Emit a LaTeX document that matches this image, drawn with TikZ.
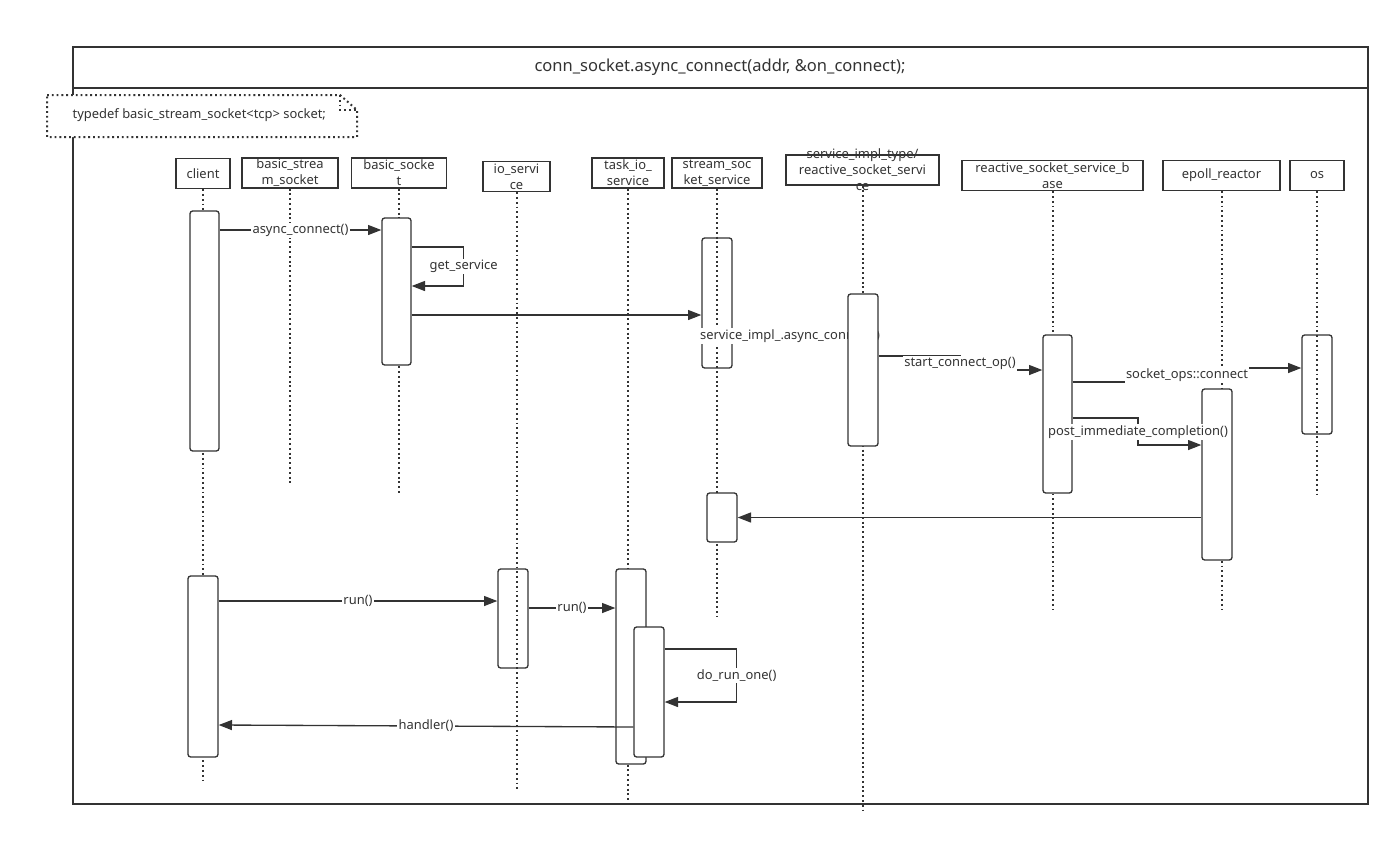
\documentclass[tikz,border=0pt]{standalone}
\usepackage{fontspec}
\setmainfont{Noto Sans}
\usepackage{tikz}
\usetikzlibrary{positioning,fit,arrows.meta}
\definecolor{ink}{HTML}{333333}

\begin{document}
\begin{tikzpicture}[x=0.75pt, y=-0.75pt, >={Triangle[length=10pt,width=7.5pt]},
    every node/.style={font=\fontsize{9.7}{12}\selectfont, text=ink},
    head/.style={draw=ink, line width=1pt, minimum height=22.5pt, inner sep=0pt},
    life/.style={ink, line width=1.5pt, dash pattern=on 1.4pt off 2.2pt},
    act/.style={draw=ink, line width=1pt, rounded corners=2pt, fill=white, inner sep=0pt},
    actclear/.style={act, fill=none},
    msg/.style={ink, line width=1pt, ->},
    lbl/.style={fill=white, inner sep=1pt}]

    \useasboundingbox (0,0) rectangle (1400,843);

    % frame and title band
    \draw[ink, line width=1.1pt] (73,47) rectangle (1368,804);
    \draw[ink, line width=1.1pt] (73,88) -- (1368,88);
    \node (title) at (720,67) {\fontsize{12.4}{15}\selectfont conn\_socket.async\_connect(addr, \&on\_connect);};

    % note
    \draw[ink, line width=1.5pt, dash pattern=on 1.4pt off 2.2pt, fill=white] (47,95) -- (340,95) -- (357,110) -- (357,137) -- (47,137) -- cycle;
    \draw[ink, line width=1.5pt, dash pattern=on 1.4pt off 2.2pt] (340,95) |- (357,110);
    \node[anchor=west] (note) at (68,115) {typedef basic\_stream\_socket<tcp> socket;};

    % lifeline heads
    \node[head, minimum width=40.5pt, label={center:client}] (client) at (203,173.5) {};
    \node[head, minimum width=72pt, label={[align=center]center:basic\_strea\\m\_socket}] (bss) at (290,173) {};
    \node[head, minimum width=71.25pt, label={[align=center]center:basic\_socke\\t}] (bsock) at (399,173) {};
    \node[head, minimum width=50.25pt, label={[align=center]center:io\_servi\\ce}] (ios) at (516.5,176.5) {};
    \node[head, minimum width=54pt, label={[align=center]center:task\_io\_\\service}] (tios) at (628,173) {};
    \node[head, minimum width=67.5pt, label={[align=center]center:stream\_soc\\ket\_service}] (sss) at (717,173) {};
    \node[head, minimum width=114.75pt, label={[align=center]center:service\_impl\_type/\\reactive\_socket\_servi\\ce}] (rss) at (862.5,170) {};
    \node[head, minimum width=135.75pt, label={[align=center]center:reactive\_socket\_service\_b\\ase}] (rsb) at (1052.5,175.5) {};
    \node[head, minimum width=87.75pt, label={center:epoll\_reactor}] (epoll) at (1221.5,175.5) {};
    \node[head, minimum width=40.5pt, label={center:os}] (os) at (1317,175.5) {};

    % lifelines
    \draw[life] (client.south) -- (client.south |- 0,780);
    \draw[life] (bss.south) -- (bss.south |- 0,485);
    \draw[life] (bsock.south) -- (bsock.south |- 0,493);
    \draw[life] (ios.south) -- (ios.south |- 0,790);
    \draw[life] (tios.south) -- (tios.south |- 0,800);
    \draw[life] (sss.south) -- (sss.south |- 0,617);
    \draw[life] (rss.south) -- (rss.south |- 0,810);
    \draw[life] (rsb.south) -- (rsb.south |- 0,610);
    \draw[life] (epoll.south) -- (epoll.south |- 0,610);
    \draw[life] (os.south) -- (os.south |- 0,498);

    % activations
    \node[act, fit={(190,211) (219,451)}] (clientA) {};
    \node[act, fit={(382,218) (411,365)}] (bsockA) {};
    \node[actclear, fit={(702,238) (732,368)}] (sssA) {};
    \node[lbl] (implcall) at (790,336) {service\_impl\_.async\_connect()};
    \node[act, fit={(848,294) (878,446)}] (rssA) {};
    \node[act, fit={(1043,335) (1072,493)}] (rsbA) {};
    \node[actclear, fit={(1302,335) (1332,434)}] (osA) {};
    \node[act, fit={(1202,389) (1232,560)}] (epollA) {};
    \node[act, fit={(707,493) (737,542)}] (sssB) {};
    \node[act, fit={(188,576) (218,757)}] (clientB) {};
    \node[actclear, fit={(498,569) (528,668)}] (iosA) {};
    \node[act, fit={(616,569) (646,764)}] (tiosA) {};
    \node[act, fit={(634,627) (664,757)}] (tiosB) {};

    % messages
    \draw[msg] (clientA.east |- 0,230) -- node[lbl] {async\_connect()} (bsockA.west |- 0,230);
    \draw[msg] (bsockA.east |- 0,247) -- ++(52,0) |- node[lbl, pos=0.25] {get\_service} (bsockA.east |- 0,286);
    \draw[msg] (bsockA.east |- 0,315) -- (sssA.west |- 0,315);
    \draw[msg] (rssA.east |- 0,356) -| (960,363) node[lbl] {start\_connect\_op()} |- (rsbA.west |- 0,370);
    \draw[msg] (rsbA.east |- 0,382) -| (1187,375) node[lbl] {socket\_ops::connect} |- (osA.west |- 0,368);
    \draw[msg] (rsbA.east |- 0,418) -| (1138,432) node[lbl] {post\_immediate\_completion()} |- (epollA.west |- 0,445);
    \draw[msg] (epollA.west |- 0,517.5) -- (sssB.east |- 0,517.5);
    \draw[msg] (clientB.east |- 0,601) -- node[lbl] {run()} (iosA.west |- 0,601);
    \draw[msg] (iosA.east |- 0,608) -- node[lbl] {run()} (tiosA.west |- 0,608);
    \draw[msg] (tiosB.east |- 0,649) -- ++(72,0) |- node[lbl, pos=0.25] {do\_run\_one()} (tiosB.east |- 0,702);
    \draw[msg] (tiosB.west |- 0,727) -- node[lbl] {handler()} (clientB.east |- 0,725);
\end{tikzpicture}
\end{document}
